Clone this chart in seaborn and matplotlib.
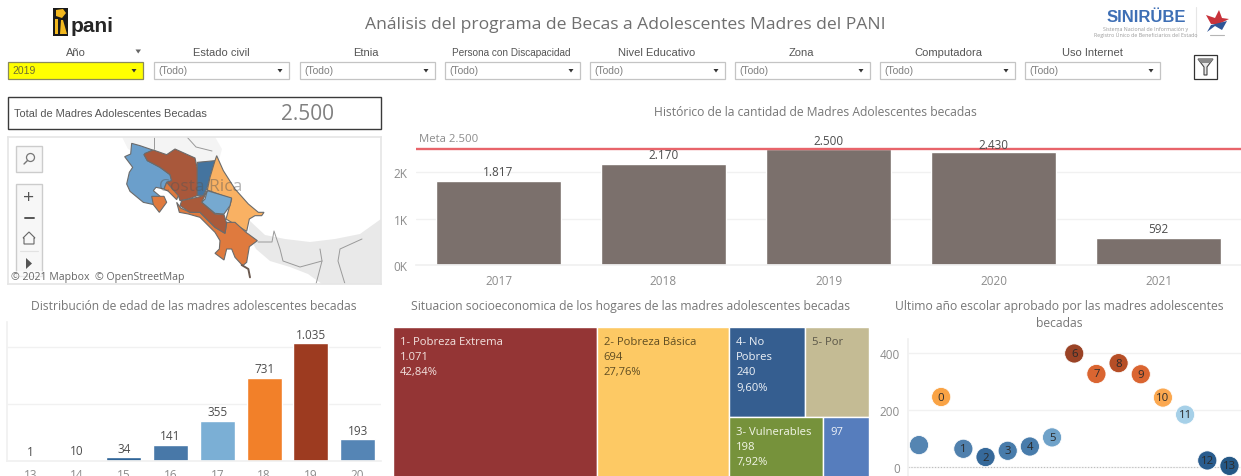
import numpy as np
import pandas as pd
import matplotlib
matplotlib.use("Agg")
import matplotlib.pyplot as plt
from matplotlib.patches import Rectangle, Polygon
import seaborn as sns

# ---------- data ----------
anios = ["2017", "2018", "2019", "2020", "2021"]
becadas = [1817, 2170, 2500, 2430, 592]
meta = 2500
total_becadas = "2.500"

edades = ["13", "14", "15", "16", "17", "18", "19", "20"]
madres_edad = [1, 10, 34, 141, 355, 731, 1035, 193]
colores_edad = ["#4f81b0", "#5b8bb8", "#2f6497", "#4878a8", "#7bafd5", "#f28029", "#9d3b20", "#5585b5"]

pobreza_col1 = ["1- Pobreza Extrema"]
pobreza_val1 = [1071]
pobreza_col2 = ["2- Pobreza Básica"]
pobreza_val2 = [694]
pobreza_fila_sup = ["4- No\nPobres", "5- Por"]
pobreza_val_sup = [240, 200]
pobreza_fila_inf = ["3- Vulnerables", ""]
pobreza_val_inf = [198, 97]

grados = ["", "0", "1", "2", "3", "4", "5", "6", "7", "8", "9", "10", "11", "12", "13"]
madres_grado = [77, 246, 64, 35, 57, 72, 104, 399, 327, 365, 326, 244, 184, 23, 4]
colores_grado = ["#4f81b0", "#f9a03f", "#4a7cab", "#2f6497", "#4278a8", "#4278a8", "#6a9fc8", "#973d1f",
                 "#d9602a", "#b4481f", "#d9602a", "#fba54a", "#a3cfe8", "#22578a", "#1e5282"]

filtros = ["Año", "Estado civil", "Etnia", "Persona con Discapacidad", "Nivel Educativo", "Zona", "Computadora", "Uso Internet"]
valores_filtro = ["2019", "(Todo)", "(Todo)", "(Todo)", "(Todo)", "(Todo)", "(Todo)", "(Todo)"]

# ---------- setup ----------
sns.set_theme(style="white")
plt.rcParams["font.family"] = ["Open Sans", "DejaVu Sans"]
W, H = 1241, 477
fig = plt.figure(figsize=(W / 100, H / 100), dpi=100, facecolor="white")
GREY = "#777777"
TICK = "#8c8c8c"
LABEL = "#4d4d4d"
GRID = "#f1f1f1"
ARIAL = "Liberation Sans"


def px_axes(x0, y0, x1, y1, **kw):
    return fig.add_axes([x0 / W, 1 - y1 / H, (x1 - x0) / W, (y1 - y0) / H], **kw)


bg = px_axes(0, 0, W, H)
bg.set_xlim(0, W)
bg.set_ylim(H, 0)
bg.axis("off")

# ---------- header ----------
bg.text(625, 25, "Análisis del programa de Becas a Adolescentes Madres del PANI", ha="center", va="center",
        fontsize=12.6, color="#6f6f6f")

# PANI logo
bg.add_patch(Rectangle((53, 9), 15, 28, fc="#1a1a1a", ec="none"))
bg.add_patch(Polygon([(56, 11), (63, 10), (66, 14), (62, 19), (56, 17)], fc="#f2b81f", ec="none"))
bg.add_patch(Polygon([(55, 20), (58, 20), (58, 35), (55, 35)], fc="#f2b81f", ec="none"))
bg.add_patch(Polygon([(61, 21), (63, 21), (67, 35), (60, 35)], fc="#f2b81f", ec="none"))
bg.text(71, 27, "pani", ha="left", va="center", fontsize=15, fontweight="bold", color="#262626", family=ARIAL)

# SINIRUBE logo
bg.text(1146.5, 18, "SINIRÜBE", ha="center", va="center", fontsize=12, fontweight="bold", color="#3e6fb5", family=ARIAL)
bg.text(1146, 29.5, "Sistema Nacional de Información y", ha="center", va="center", fontsize=3.8, color="#9a9a9a")
bg.text(1146, 34.5, "Registro Único de Beneficiarios del Estado", ha="center", va="center", fontsize=3.8, color="#9a9a9a")
bg.plot([1196, 1196], [8, 38], color="#e6e6e6", lw=0.8)
bg.add_patch(Polygon([(1206, 16), (1215, 19), (1219, 11), (1222, 19), (1229, 20), (1219, 25), (1211, 25)], fc="#c8323a", ec="none"))
bg.add_patch(Polygon([(1211, 26), (1227, 22), (1222, 31), (1215, 27), (1207, 33)], fc="#2f5597", ec="none"))
bg.plot([1210, 1224], [36, 36], color="#b5b5b5", lw=0.8)

# filter controls
xs = [8, 154, 300, 445, 590, 735, 880, 1025]
centros = [76, 221, 366, 511, 657, 801, 948, 1092]
for i, (nom, val) in enumerate(zip(filtros, valores_filtro)):
    x = xs[i]
    fs = 7.2 if i == 3 else 8
    bg.text(centros[i], 52.5, nom, ha="center", va="center", fontsize=fs, color="#555555", family=ARIAL)
    sel = i == 0
    bg.add_patch(Rectangle((x, 62.5), 135, 17.5, fc="#ffff00" if sel else "white",
                           ec="#8a8a5a" if sel else "#c4c4c4", lw=0.9))
    bg.text(x + 4, 71.5, val, ha="left", va="center", fontsize=7.5, color="#6e6e30" if sel else "#808080", family=ARIAL)
    ax_ = x + 126
    bg.add_patch(Polygon([(ax_ - 2.5, 70), (ax_ + 2.5, 70), (ax_, 73.5)], fc="#333333", ec="none"))
bg.add_patch(Polygon([(135.5, 50.5), (141, 50.5), (138.2, 54.5)], fc="#666666", ec="none"))

# filter icon
bg.add_patch(Rectangle((1194, 56), 23, 24, fc="white", ec="#333333", lw=0.9))
bg.add_patch(Polygon([(1198, 60), (1213, 60), (1207, 68), (1207, 76), (1204, 76), (1204, 68)], fc="#e8e8e8", ec="#444444", lw=0.8))
bg.add_patch(Polygon([(1198, 60), (1213, 60), (1210, 64), (1201, 64)], fc="#8a8a8a", ec="none"))

# KPI box
bg.add_patch(Rectangle((8, 98), 373, 32, fc="white", ec="#3a3a3a", lw=1.0))
bg.text(14, 114, "Total de Madres Adolescentes Becadas", ha="left", va="center", fontsize=7.9, color="#555555", family=ARIAL)
bg.text(307, 115, total_becadas, ha="center", va="center", fontsize=15, color="#808080")

# chart titles
tit = dict(ha="center", va="center", fontsize=8.7, color=GREY)
bg.text(815, 112, "Histórico de la cantidad de Madres Adolescentes becadas", **tit)
bg.text(194, 307, "Distribución de edad de las madres adolescentes becadas", **tit)
bg.text(631, 307, "Situacion socioeconomica de los hogares de las madres adolescentes becadas", **tit)
bg.text(1059, 307, "Ultimo año escolar aprobado por las madres adolescentes", **tit)
bg.text(1059, 324, "becadas", **tit)

# ---------- map ----------
mp = px_axes(8, 138, 381, 285)
mp.set_xlim(8, 381)
mp.set_ylim(285, 138)
for s in mp.spines.values():
    s.set_color("#e6e6e6")
mp.set_xticks([])
mp.set_yticks([])


def z(pts):
    return [(120 + a / 3, 135 + b / 3) for a, b in pts]


tierra = [(250, 222), (265, 236), (285, 240), (310, 243), (335, 240), (360, 235), (381, 220), (381, 285),
          (322, 285), (308, 275), (290, 268), (270, 262), (256, 250), (248, 235)]
mp.add_patch(Polygon(tierra, fc="#e9e9e9", ec="none"))
mp.add_patch(Polygon([(122, 138), (215, 138), (222, 150), (218, 165), (150, 160), (128, 150)], fc="#f4f4f4", ec="none"))
for linea in [[(154, 138), (154, 150)], [(187, 138), (196, 148), (212, 152)],
              [(258, 243), (272, 243), (274, 232), (280, 250), (283, 262), (300, 268), (322, 262)],
              [(362, 240), (340, 250), (338, 262), (345, 285)], [(320, 250), (322, 262), (316, 285)]]:
    mp.plot(*zip(*linea), color="#9a9a9a", lw=0.7)

guanacaste = [(35, 28), (60, 35), (98, 48), (72, 62), (82, 80), (120, 100), (150, 122), (155, 140), (140, 145), (132, 165),
              (108, 160), (100, 170), (130, 195), (98, 190), (102, 212), (70, 205), (30, 172), (20, 150), (28, 115), (38, 100),
              (14, 68), (32, 60)]
alajuela = [(75, 58), (100, 48), (140, 62), (165, 45), (225, 72), (232, 105), (232, 185), (205, 195), (180, 200), (175, 185),
            (150, 165), (140, 145), (155, 140), (150, 122), (120, 100), (82, 80), (72, 62)]
heredia = [(232, 85), (285, 80), (270, 130), (260, 165), (250, 185), (232, 185), (232, 105)]
limon = [(285, 80), (290, 65), (310, 110), (345, 165), (385, 210), (415, 235), (432, 235), (425, 245), (405, 245), (388, 255),
         (380, 292), (318, 255), (335, 195), (262, 168), (270, 130)]
cartago = [(262, 170), (335, 192), (330, 215), (312, 240), (285, 238), (245, 205), (255, 195)]
sanjose = [(262, 170), (245, 205), (285, 240), (312, 242), (320, 268), (315, 298), (285, 280), (240, 235), (210, 235),
           (180, 215), (185, 200), (232, 190), (250, 185)]
punt_a = [(95, 187), (132, 187), (140, 205), (118, 235), (100, 212)]
punt_b = [(140, 145), (175, 185), (170, 197), (145, 172), (132, 165)]
punt_c = [(320, 265), (345, 265), (378, 295), (412, 320), (388, 338), (380, 385), (368, 395), (345, 370), (335, 345),
          (320, 345), (312, 378), (285, 358), (298, 345), (300, 320), (285, 295), (240, 250), (205, 240), (178, 235),
          (170, 205), (182, 222), (210, 235), (240, 235), (285, 280), (315, 298)]
for pts, c in [(guanacaste, "#6b9fcb"), (alajuela, "#a9583b"), (heredia, "#44749f"), (limon, "#f9b163"),
               (punt_a, "#df7a3e"), (punt_b, "#df7a3e"), (punt_c, "#df7a3e"), (cartago, "#76a9d0"), (sanjose, "#aa5a3a")]:
    mp.add_patch(Polygon(z(pts), fc=c, ec="#6b6b6b", lw=0.8))
mp.plot(*zip(*z([(365, 393), (385, 405), (390, 430)])), color="#6b5a50", lw=1.4)
mp.text(201, 187, "Costa Rica", ha="center", va="center", fontsize=12.5, color="#555555", alpha=0.45)

for x0, y0, x1, y1 in [(16, 147, 42, 173), (16, 185, 42, 277)]:
    mp.add_patch(Rectangle((x0, y0), x1 - x0, y1 - y0, fc="#f7f7f7", ec="#cccccc", lw=1))
mp.add_patch(plt.Circle((30.5, 158.5), 4, fc="none", ec="#777777", lw=0.9))
mp.plot([27.5, 24], [161.5, 165], color="#777777", lw=1)
mp.text(29, 198, "+", ha="center", va="center", fontsize=14, color="#555555")
mp.plot([25, 34], [218.5, 218.5], color="#555555", lw=1.4)
mp.add_patch(Polygon([(23, 239), (29, 233), (35, 239), (34, 239), (34, 245), (24, 245), (24, 239)], fc="none", ec="#666666", lw=0.8))
mp.plot([20, 38], [252, 252], color="#e2e2e2", lw=0.8)
mp.add_patch(Polygon([(26, 259), (32, 264.5), (26, 270)], fc="#555555", ec="none"))
mp.text(11, 278, "© 2021 Mapbox  © OpenStreetMap", ha="left", va="center", fontsize=7.6, color="#666666",
        bbox=dict(fc="white", ec="none", alpha=0.6, pad=0.5))

# ---------- history bars ----------
ah = px_axes(416, 133, 1241, 266.3)
df_h = pd.DataFrame({"anio": anios, "n": becadas})
sns.barplot(data=df_h, x="anio", y="n", color="#7b706c", saturation=1, width=0.754, ax=ah, zorder=2)
ah.set_xlim(-0.5, 4.5)
ah.set_ylim(0, 133.3 / 0.04665)
ah.set_xlabel("")
ah.set_ylabel("")
ah.set_yticks([0, 1000, 2000], ["0K", "1K", "2K"])
ah.yaxis.grid(True, color=GRID, lw=1)
ah.set_axisbelow(True)
sns.despine(ax=ah, left=True, bottom=False, top=True, right=True)
ah.spines["bottom"].set_color(GRID)
ah.tick_params(axis="y", length=0, labelsize=8.5, labelcolor=TICK, pad=6)
ah.tick_params(axis="x", length=0, labelsize=8.5, labelcolor=TICK, pad=6)
ah.patch.set_alpha(0)
ah.set_xticks(np.arange(0.5, 4.5), minor=True)
ah.tick_params(axis="x", which="minor", length=4, color="#e6e6e6", width=0.8)
ah.axhline(meta, color="#e8646a", lw=1.7, zorder=3)
ah.annotate("Meta 2.500", xy=(0, meta), xycoords=("axes fraction", "data"), xytext=(2, 3.5), textcoords="offset points",
            ha="left", va="bottom", fontsize=8.2, color=TICK)
for i, v in enumerate(becadas):
    ah.annotate(f"{v:,}".replace(",", "."), xy=(i, v), xytext=(0, 2.5 if v == 2170 else (1 if v > 2000 else 2)), textcoords="offset points",
                ha="center", va="bottom", fontsize=8.5, color=LABEL, zorder=4)

# ---------- age bars ----------
ae = px_axes(7, 323, 381, 462)
df_e = pd.DataFrame({"edad": edades, "n": madres_edad})
sns.barplot(data=df_e, x="edad", y="n", hue="edad", palette=colores_edad, saturation=1, width=0.75, legend=False, ax=ae, zorder=2)
ae.set_xlim(-0.5, 7.5)
ae.set_ylim(0, 139 / 0.1137)
ae.set_xlabel("")
ae.set_ylabel("")
ae.set_yticks([0, 500, 1000], ["", "", ""])
ae.yaxis.grid(True, color=GRID, lw=1)
ae.set_axisbelow(True)
sns.despine(ax=ae, left=False, bottom=False, top=True, right=True)
ae.spines["bottom"].set_color(GRID)
ae.spines["left"].set_color(GRID)
ae.tick_params(axis="y", length=0)
ae.tick_params(axis="x", length=0, labelsize=8.5, labelcolor=TICK, pad=5)
ae.set_xticks(np.arange(0.5, 7.5), minor=True)
ae.tick_params(axis="x", which="minor", length=4, color="#e6e6e6", width=0.8)
ae.patch.set_alpha(0)
for i, v in enumerate(madres_edad):
    ae.annotate(f"{v:,}".replace(",", "."), xy=(i, v), xytext=(0, 1.8), textcoords="offset points",
                ha="center", va="bottom", fontsize=8.5, color=LABEL)

# ---------- treemap ----------
at = px_axes(393, 328, 869, 478)
total = sum(pobreza_val1 + pobreza_val2 + pobreza_val_sup + pobreza_val_inf)
at.set_xlim(0, total)
at.set_ylim(1, 0)
at.axis("off")


def celda(x, y, w, h, nombre, valor, pct, fc, tc):
    at.add_patch(Rectangle((x, y), w, h, fc=fc, ec="white", lw=1))
    lineas = [nombre] if nombre else []
    if valor:
        lineas.append(f"{valor:,}".replace(",", "."))
    if pct:
        lineas.append(f"{pct:.2f}%".replace(".", ","))
    at.annotate("\n".join(lineas), xy=(x, y), xytext=(5, -6.5), textcoords="offset points", ha="left", va="top",
                fontsize=8.1, color=tc, linespacing=1.52)


x = 0
celda(x, 0, pobreza_val1[0], 1, pobreza_col1[0], pobreza_val1[0], pobreza_val1[0] / total * 100, "#943535", "#f3e3e0")
x += pobreza_val1[0]
celda(x, 0, pobreza_val2[0], 1, pobreza_col2[0], pobreza_val2[0], pobreza_val2[0] / total * 100, "#fdc964", "#5f4d22")
x += pobreza_val2[0]
resto = sum(pobreza_val_sup) + sum(pobreza_val_inf)
h_sup = sum(pobreza_val_sup) / resto
h_inf = 1 - h_sup
cx = x
celda(cx, 0, pobreza_val_sup[0] / h_sup, h_sup, pobreza_fila_sup[0], pobreza_val_sup[0], pobreza_val_sup[0] / total * 100, "#355e90", "#eef2f7")
cx += pobreza_val_sup[0] / h_sup
celda(cx, 0, pobreza_val_sup[1] / h_sup, h_sup, pobreza_fila_sup[1], None, None, "#c4bb94", "#5a5648")
cx = x
celda(cx, h_sup, pobreza_val_inf[0] / h_inf, h_inf, pobreza_fila_inf[0], pobreza_val_inf[0], pobreza_val_inf[0] / total * 100, "#76923b", "#f3f6e8")
cx += pobreza_val_inf[0] / h_inf
celda(cx, h_sup, pobreza_val_inf[1] / h_inf, h_inf, "", pobreza_val_inf[1], None, "#567dbd", "#eef2f9")

# ---------- scatter ----------
ag = px_axes(908, 340, 1241, 477)
df_g = pd.DataFrame({"pos": np.arange(len(grados)), "n": madres_grado, "grado": [f"g{g}" for g in grados]})
sns.scatterplot(data=df_g, x="pos", y="n", hue="grado", palette=colores_grado, s=190, edgecolor="white", linewidth=0.6,
                alpha=0.97, legend=False, ax=ag, zorder=3, clip_on=False)
ag.set_xlim(-0.496, 14.52)
ag.set_ylim(-9 / 0.2845, 128 / 0.2845)
ag.set_xlabel("")
ag.set_ylabel("")
ag.set_xticks([])
ag.set_yticks([0, 200, 400])
ag.yaxis.grid(True, color=GRID, lw=1)
ag.set_axisbelow(True)
sns.despine(ax=ag, left=False, bottom=True, top=True, right=True)
ag.spines["left"].set_color(GRID)
ag.tick_params(axis="y", length=0, labelsize=8.5, labelcolor=TICK, pad=6)
ag.patch.set_alpha(0)
ag.axhline(0, color="#bdbdbd", lw=0.8, ls=":", zorder=1)
for i, (g, v) in enumerate(zip(grados, madres_grado)):
    ag.text(i, v, g, ha="center", va="center", fontsize=8.2, color="#2b2b2b", zorder=4)

fig.savefig("out.png", dpi=100)
